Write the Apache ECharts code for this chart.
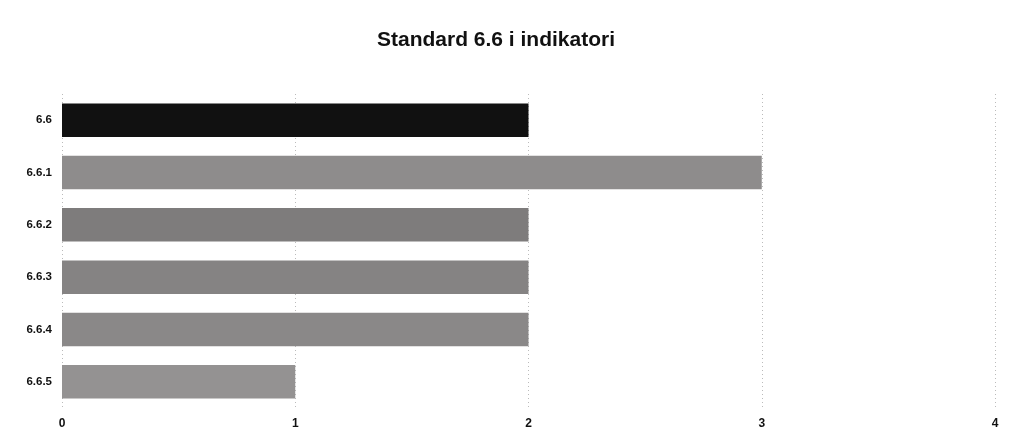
<!DOCTYPE html>
<html>
<head>
<meta charset="utf-8">
<script src="https://cdn.jsdelivr.net/npm/echarts@6/dist/echarts.min.js"></script>
<style>html,body{margin:0;padding:0;background:#fff}#c{width:1013px;height:444px}</style>
</head>
<body>
<div id="c"></div>
<script>
var titleText = 'Standard 6.6 i indikatori';
var categories = ['6.6', '6.6.1', '6.6.2', '6.6.3', '6.6.4', '6.6.5'];
var values = [2, 3, 2, 2, 2, 1];
var barColors = ['#111111', '#8e8c8c', '#7e7c7c', '#858383', '#8a8888', '#949292'];

var chart = echarts.init(document.getElementById('c'));
chart.setOption({
  backgroundColor: '#ffffff',
  animation: false,
  title: {
    text: titleText,
    left: 491, top: 25, textAlign: 'center',
    textStyle: {fontFamily: 'Liberation Sans, Arial, sans-serif', fontSize: 21, fontWeight: 'bold', color: '#111'}
  },
  grid: {left: 62, right: 18, top: 94, bottom: 36, containLabel: false},
  xAxis: {
    type: 'value', min: 0, max: 4, interval: 1,
    axisLine: {show: false}, axisTick: {show: false},
    splitLine: {show: true, lineStyle: {type: [1, 3], color: '#bbbbbb', width: 1}},
    axisLabel: {margin: 10, color: '#111', fontWeight: 'bold', fontSize: 12, fontFamily: 'Liberation Sans, Arial, sans-serif'}
  },
  yAxis: {
    type: 'category', data: categories, inverse: true,
    axisLine: {show: false}, axisTick: {show: false},
    axisLabel: {margin: 10, color: '#111', fontWeight: 'bold', fontSize: 11.5, fontFamily: 'Liberation Sans, Arial, sans-serif'}
  },
  series: [{
    type: 'bar',
    barCategoryGap: '36%',
    data: values.map(function (v, i) { return {value: v, itemStyle: {color: barColors[i]}}; })
  }]
});
</script>
</body>
</html>
